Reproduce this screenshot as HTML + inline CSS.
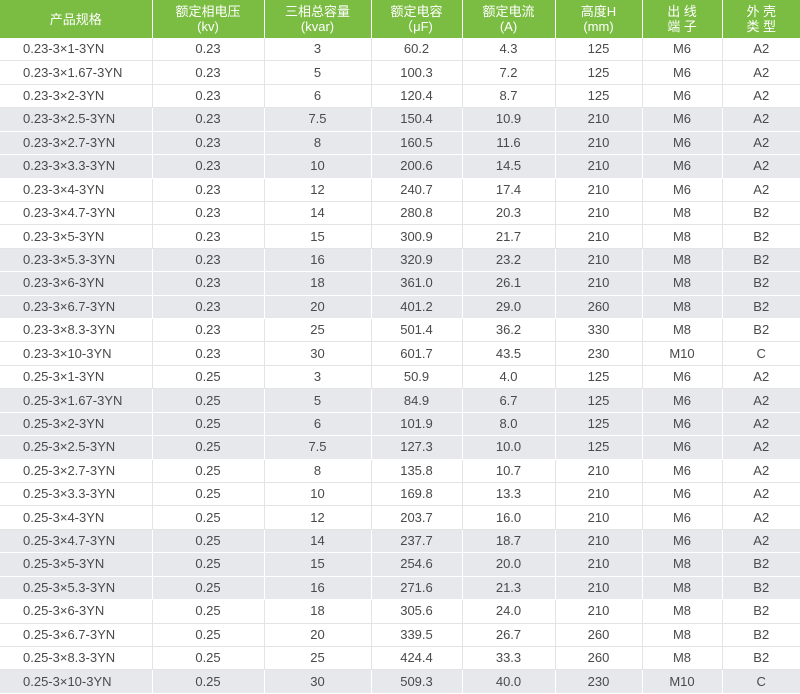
<!DOCTYPE html>
<html><head><meta charset="utf-8"><style>
html,body{margin:0;padding:0;background:#fff;width:800px;height:694px;overflow:hidden}
table{border-collapse:collapse;table-layout:fixed;width:800px;font-family:"Liberation Sans","Noto Sans CJK SC",sans-serif;font-size:13px;color:#4a4a4a}
th{background:#7bbd42;color:#fff;font-weight:normal;height:38px;padding:0;line-height:15px;border-left:1px solid #fff;border-right:1px solid #fff;text-align:center;font-size:13px}
td{height:22.43px;padding:0;text-align:center;border-bottom:1px solid #e4e4e4;border-left:1px solid #e4e4e4;line-height:16px}
td:first-child{text-align:left;padding-left:23px;border-left:none}
tr.g td{background:#e6e8eb;border-color:#fff}
</style></head><body>
<table>
<colgroup><col style="width:152px"><col style="width:112px"><col style="width:107px"><col style="width:91px"><col style="width:93px"><col style="width:87px"><col style="width:80px"><col style="width:78px"></colgroup>
<tr><th style="border-left:none">产品规格</th><th>额定相电压<br>(kv)</th><th>三相总容量<br>(kvar)</th><th>额定电容<br>（μF)</th><th>额定电流<br>(A)</th><th>高度H<br>(mm)</th><th>出 线<br>端 子</th><th style="border-right:none">外 壳<br>类 型</th></tr>
<tr><td>0.23-3×1-3YN</td><td>0.23</td><td>3</td><td>60.2</td><td>4.3</td><td>125</td><td>M6</td><td>A2</td></tr>
<tr><td>0.23-3×1.67-3YN</td><td>0.23</td><td>5</td><td>100.3</td><td>7.2</td><td>125</td><td>M6</td><td>A2</td></tr>
<tr><td>0.23-3×2-3YN</td><td>0.23</td><td>6</td><td>120.4</td><td>8.7</td><td>125</td><td>M6</td><td>A2</td></tr>
<tr class="g"><td>0.23-3×2.5-3YN</td><td>0.23</td><td>7.5</td><td>150.4</td><td>10.9</td><td>210</td><td>M6</td><td>A2</td></tr>
<tr class="g"><td>0.23-3×2.7-3YN</td><td>0.23</td><td>8</td><td>160.5</td><td>11.6</td><td>210</td><td>M6</td><td>A2</td></tr>
<tr class="g"><td>0.23-3×3.3-3YN</td><td>0.23</td><td>10</td><td>200.6</td><td>14.5</td><td>210</td><td>M6</td><td>A2</td></tr>
<tr><td>0.23-3×4-3YN</td><td>0.23</td><td>12</td><td>240.7</td><td>17.4</td><td>210</td><td>M6</td><td>A2</td></tr>
<tr><td>0.23-3×4.7-3YN</td><td>0.23</td><td>14</td><td>280.8</td><td>20.3</td><td>210</td><td>M8</td><td>B2</td></tr>
<tr><td>0.23-3×5-3YN</td><td>0.23</td><td>15</td><td>300.9</td><td>21.7</td><td>210</td><td>M8</td><td>B2</td></tr>
<tr class="g"><td>0.23-3×5.3-3YN</td><td>0.23</td><td>16</td><td>320.9</td><td>23.2</td><td>210</td><td>M8</td><td>B2</td></tr>
<tr class="g"><td>0.23-3×6-3YN</td><td>0.23</td><td>18</td><td>361.0</td><td>26.1</td><td>210</td><td>M8</td><td>B2</td></tr>
<tr class="g"><td>0.23-3×6.7-3YN</td><td>0.23</td><td>20</td><td>401.2</td><td>29.0</td><td>260</td><td>M8</td><td>B2</td></tr>
<tr><td>0.23-3×8.3-3YN</td><td>0.23</td><td>25</td><td>501.4</td><td>36.2</td><td>330</td><td>M8</td><td>B2</td></tr>
<tr><td>0.23-3×10-3YN</td><td>0.23</td><td>30</td><td>601.7</td><td>43.5</td><td>230</td><td>M10</td><td>C</td></tr>
<tr><td>0.25-3×1-3YN</td><td>0.25</td><td>3</td><td>50.9</td><td>4.0</td><td>125</td><td>M6</td><td>A2</td></tr>
<tr class="g"><td>0.25-3×1.67-3YN</td><td>0.25</td><td>5</td><td>84.9</td><td>6.7</td><td>125</td><td>M6</td><td>A2</td></tr>
<tr class="g"><td>0.25-3×2-3YN</td><td>0.25</td><td>6</td><td>101.9</td><td>8.0</td><td>125</td><td>M6</td><td>A2</td></tr>
<tr class="g"><td>0.25-3×2.5-3YN</td><td>0.25</td><td>7.5</td><td>127.3</td><td>10.0</td><td>125</td><td>M6</td><td>A2</td></tr>
<tr><td>0.25-3×2.7-3YN</td><td>0.25</td><td>8</td><td>135.8</td><td>10.7</td><td>210</td><td>M6</td><td>A2</td></tr>
<tr><td>0.25-3×3.3-3YN</td><td>0.25</td><td>10</td><td>169.8</td><td>13.3</td><td>210</td><td>M6</td><td>A2</td></tr>
<tr><td>0.25-3×4-3YN</td><td>0.25</td><td>12</td><td>203.7</td><td>16.0</td><td>210</td><td>M6</td><td>A2</td></tr>
<tr class="g"><td>0.25-3×4.7-3YN</td><td>0.25</td><td>14</td><td>237.7</td><td>18.7</td><td>210</td><td>M6</td><td>A2</td></tr>
<tr class="g"><td>0.25-3×5-3YN</td><td>0.25</td><td>15</td><td>254.6</td><td>20.0</td><td>210</td><td>M8</td><td>B2</td></tr>
<tr class="g"><td>0.25-3×5.3-3YN</td><td>0.25</td><td>16</td><td>271.6</td><td>21.3</td><td>210</td><td>M8</td><td>B2</td></tr>
<tr><td>0.25-3×6-3YN</td><td>0.25</td><td>18</td><td>305.6</td><td>24.0</td><td>210</td><td>M8</td><td>B2</td></tr>
<tr><td>0.25-3×6.7-3YN</td><td>0.25</td><td>20</td><td>339.5</td><td>26.7</td><td>260</td><td>M8</td><td>B2</td></tr>
<tr><td>0.25-3×8.3-3YN</td><td>0.25</td><td>25</td><td>424.4</td><td>33.3</td><td>260</td><td>M8</td><td>B2</td></tr>
<tr class="g"><td>0.25-3×10-3YN</td><td>0.25</td><td>30</td><td>509.3</td><td>40.0</td><td>230</td><td>M10</td><td>C</td></tr>
</table>
</body></html>
